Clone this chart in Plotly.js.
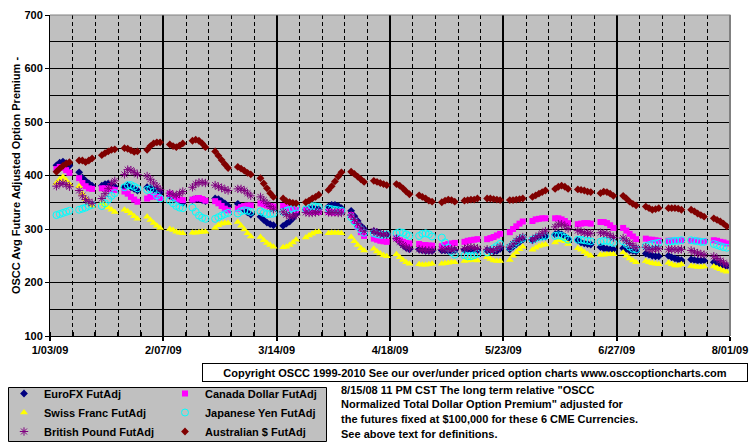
<!DOCTYPE html>
<html>
<head>
<meta charset="utf-8">
<script src="https://cdn.plot.ly/plotly-3.0.1.min.js"></script>
<style>
html,body{margin:0;padding:0;background:#ffffff;width:755px;height:446px;overflow:hidden;}
#chart{position:absolute;left:0;top:0;width:755px;height:446px;overflow:hidden;}
</style>
</head>
<body>
<div id="chart"></div>
<script>
// ---------------- DATA ----------------
// Trading days (Mon-Fri) from 2009-01-05 to 2009-07-31 : 30 weeks x 5 days
const firstDay = '2009-01-05';
const lastDay = '2009-07-31';

// x-axis tick labels
const tickDates = ['2009-01-03','2009-02-07','2009-03-14','2009-04-18','2009-05-23','2009-06-27','2009-08-01'];
const tickLabels = ['1/03/09','2/07/09','3/14/09','4/18/09','5/23/09','6/27/09','8/01/09'];

const seriesNames = ['EuroFX FutAdj','Canada Dollar FutAdj','Swiss Franc FutAdj','Japanese Yen FutAdj','British Pound FutAdj','Australian $ FutAdj'];

// one line per week (5 trading days)
const euroFX = [
 419,424,426,423,418,  406,396,390,385,381,  381,384,385,383,379,  378,381,378,375,372,  378,377,374,372,369,
 362,359,356,353,349,  354,356,356,354,352,  357,356,352,348,343,  347,341,336,331,327,  323,317,312,309,307,
 306,310,314,320,328,  336,338,339,338,337,  342,345,345,343,339,  334,324,315,306,300,  296,294,292,290,289,
 282,276,270,265,262,  262,260,259,259,259,  260,260,259,259,260,  261,262,262,261,260,  260,259,258,259,263,
 262,267,272,276,280,  279,283,285,286,286,  290,292,290,286,282,  279,275,273,272,271,  266,264,263,262,262,
 264,262,260,259,258,  254,252,250,249,249,  250,247,245,243,242,  243,242,241,241,241,  238,236,234,232,230
];
const canadaDollar = [
 412,416,414,410,405,  395,386,380,376,375,  376,376,375,374,373,  370,366,360,355,351,  357,360,362,360,358,
 366,361,357,355,354,  355,357,358,356,353,  352,348,343,338,335,  338,341,343,344,344,  348,346,344,343,342,
 343,341,339,337,335,  335,333,332,332,332,  332,331,331,332,333,  326,315,304,294,287,  282,280,278,277,276,
 283,279,276,274,273,  272,270,270,269,269,  268,270,272,273,274,  276,278,279,280,281,  281,283,285,288,291,
 294,300,305,310,314,  315,318,319,320,320,  320,320,318,315,311,  309,310,311,311,310,  313,313,311,307,302,
 302,297,291,286,281,  282,280,280,279,278,  278,278,278,279,279,  278,278,278,277,277,  279,278,276,275,273
];
const swissFranc = [
 386,393,397,391,384,  380,366,356,348,343,  348,344,340,336,332,  336,333,329,324,319,  323,317,311,306,302,
 300,298,295,293,292,  293,293,294,295,295,  302,307,310,311,311,  313,306,299,292,286,  285,279,274,270,267,
 266,267,270,275,280,  284,288,291,294,295,  292,293,293,293,292,  285,277,270,264,260,  263,258,254,251,249,
 253,247,242,238,235,  234,233,233,234,235,  235,236,237,238,238,  240,241,242,242,241,  247,244,241,240,240,
 242,250,256,262,267,  261,265,268,270,271,  275,279,279,277,272,  264,261,257,253,250,  252,252,253,253,253,
 256,250,245,241,238,  240,238,236,235,234,  237,234,232,232,234,  231,230,229,229,230,  230,227,225,222,220
];
const japaneseYen = [
 326,328,330,332,334,  336,338,340,343,345,  343,348,355,362,367,  378,382,382,379,376,  373,375,370,363,357,
 353,348,343,340,339,  340,332,325,321,319,  319,322,325,328,330,  329,333,335,334,332,  333,330,328,328,329,
 332,334,336,338,340,  337,341,343,342,341,  338,337,336,335,334,  322,314,306,299,293,  292,290,289,289,290,
 292,294,293,290,287,  287,291,292,290,286,  284,275,265,257,252,  251,249,249,251,254,  256,260,264,268,272,
 266,271,276,280,283,  280,283,285,286,287,  287,288,287,284,280,  280,280,279,278,277,  276,278,278,276,274,
 277,272,267,263,262,  268,270,272,273,274,  276,277,278,278,279,  279,278,277,276,276,  272,270,268,266,265
];
const britishPound = [
 380,385,386,383,379,  372,362,355,351,348,  357,366,376,385,390,  402,411,410,406,402,  399,393,386,380,374,
 367,364,363,366,370,  378,384,387,387,386,  382,379,377,374,372,  375,375,372,367,362,  360,354,348,342,337,
 332,327,324,324,326,  331,330,330,331,332,  331,331,331,330,330,  326,318,310,302,296,  296,293,291,290,289,
 282,276,270,266,263,  262,261,260,260,260,  262,262,262,262,262,  263,265,266,265,264,  262,260,260,263,267,
 266,272,278,282,285,  280,284,288,292,296,  304,309,309,306,301,  297,295,293,292,292,  293,292,291,288,284,
 283,278,273,269,265,  266,262,262,263,263,  262,262,262,261,262,  260,257,255,253,252,  249,245,241,237,233
];
const australianDollar = [
 407,413,418,422,425,  428,428,425,428,432,  438,442,445,448,449,  451,450,447,444,445,  448,455,460,462,462,
 458,455,453,456,460,  465,467,465,460,453,  445,437,429,421,414,  416,413,409,405,402,  395,385,376,367,360,
 357,352,350,349,348,  350,353,357,360,364,  373,380,389,398,406,  407,403,398,393,388,  390,388,386,384,382,
 384,381,376,370,365,  363,360,357,353,351,  350,353,355,354,351,  353,354,355,355,357,  357,357,356,355,354,
 354,354,355,356,357,  360,363,366,369,372,  375,379,381,379,375,  374,373,372,370,369,  367,370,369,366,362,
 362,357,351,347,344,  342,339,336,337,339,  339,339,339,338,336,  336,333,329,326,323,  320,317,314,310,305
];

const noteLines = [
 '8/15/08 11 PM CST The long term relative "OSCC',
 'Normalized Total Dollar Option Premium" adjusted for',
 'the futures fixed at $100,000 for these 6 CME Currencies.',
 'See above text for definitions.'
];
const copyrightText = 'Copyright OSCC 1999-2010 See our over/under priced option charts www.osccoptioncharts.com';
const yTitle = 'OSCC Avg Future Adjusted Option Premium -';

// ---------------- BUILD ----------------
function tradingDays(from, to){
  const out = [];
  const d = new Date(from + 'T00:00:00Z');
  const end = new Date(to + 'T00:00:00Z');
  while (d <= end){
    const wd = d.getUTCDay();
    if (wd >= 1 && wd <= 5) out.push(d.toISOString().slice(0,10));
    d.setUTCDate(d.getUTCDate() + 1);
  }
  return out;
}
const dates = tradingDays(firstDay, lastDay);

const W = 755, H = 446;
const px = x => x / W;
const py = y => 1 - y / H;
const FONT = 'Liberation Sans, Arial, sans-serif';
const bold = (s) => ({family: FONT, size: s, color: '#000000', weight: 'bold'});

const styles = [
  {symbol:'diamond', size:6, color:'#000080', legend:'legend'},
  {symbol:'square', size:6, color:'#ff00ff', legend:'legend2'},
  {symbol:'triangle-up', size:7, color:'#ffff00', legend:'legend'},
  {symbol:'circle-open', size:7, color:'#00ffff', legend:'legend2', lw:1},
  {symbol:'asterisk-open', size:7, color:'#800080', legend:'legend', lw:1},
  {symbol:'diamond', size:6, color:'#800000', legend:'legend2'}
];
const values = [euroFX, canadaDollar, swissFranc, japaneseYen, britishPound, australianDollar];

const traces = values.map((v, i) => {
  const s = styles[i];
  const marker = {symbol: s.symbol, size: s.size, color: s.color};
  if (s.lw) marker.line = {color: s.color, width: s.lw};
  else marker.line = {width: 0};
  return {
    type: 'scatter', mode: 'markers', name: seriesNames[i],
    x: dates, y: v, marker: marker, legend: s.legend,
    hoverinfo: 'skip'
  };
});

const annotations = noteLines.map((t, i) => ({
  xref: 'paper', yref: 'paper', x: px(339), y: py([390, 404, 418.5, 434][i]),
  xanchor: 'left', yanchor: 'middle', showarrow: false, text: t, font: bold(11), align: 'left'
}));
annotations.push({
  xref: 'paper', yref: 'paper', x: px(202), y: py(363), xanchor: 'left', yanchor: 'top',
  showarrow: false, text: copyrightText, font: bold(11), align: 'center',
  bgcolor: '#ffffff', bordercolor: '#000000', borderwidth: 1, borderpad: 1, width: 542, height: 15
});

const layout = {
  width: W, height: H, autosize: false,
  margin: {l: 0, r: 0, t: 0, b: 0, autoexpand: false},
  paper_bgcolor: '#ffffff', plot_bgcolor: '#c0c0c0',
  font: bold(11),
  showlegend: true,
  xaxis: {
    type: 'date', domain: [px(50), px(730)], range: ['2009-01-03', '2009-08-01'],
    tickmode: 'array', tickvals: tickDates, ticktext: tickLabels, tickfont: bold(11),
    showgrid: true, gridcolor: '#000000', gridwidth: 2,
    ticks: 'outside', ticklen: 4, tickwidth: 2, tickcolor: '#000000',
    showline: true, linecolor: '#000000', linewidth: 1, zeroline: false, fixedrange: true,
    minor: {dtick: 7 * 86400000, tick0: '2009-01-03', showgrid: true, gridcolor: '#000000', gridwidth: 1,
            griddash: '4px,3px', ticks: 'inside', ticklen: 4, tickcolor: '#000000'}
  },
  yaxis: {
    domain: [py(336), py(15)], range: [100, 700], tick0: 100, dtick: 100, tickfont: bold(11),
    showgrid: true, gridcolor: '#000000', gridwidth: 1,
    ticks: 'outside', ticklen: 4, tickcolor: '#000000',
    showline: true, linecolor: '#000000', linewidth: 1, zeroline: false, fixedrange: true,
    minor: {dtick: 50, showgrid: true, gridcolor: '#000000', gridwidth: 1},
    title: {text: yTitle, font: bold(11), standoff: 1}
  },
  legend: {
    x: px(4), y: py(379), xanchor: 'left', yanchor: 'top', orientation: 'v',
    bgcolor: 'rgba(0,0,0,0)', borderwidth: 0, font: bold(11), itemwidth: 30, tracegroupgap: 0
  },
  legend2: {
    x: px(165), y: py(379), xanchor: 'left', yanchor: 'top', orientation: 'v',
    bgcolor: 'rgba(0,0,0,0)', borderwidth: 0, font: bold(11), itemwidth: 30, tracegroupgap: 0
  },
  shapes: [
    {type: 'rect', xref: 'paper', yref: 'paper', x0: px(8.5), x1: px(326.5), y0: py(441.5), y1: py(387.5),
     fillcolor: '#c0c0c0', line: {color: '#000000', width: 1}, layer: 'below'},
    {type: 'line', xref: 'paper', yref: 'paper', x0: px(50), x1: px(730.5), y0: py(15), y1: py(15),
     line: {color: '#808080', width: 1}, layer: 'above'},
    {type: 'line', xref: 'paper', yref: 'paper', x0: px(730), x1: px(730), y0: py(15), y1: py(336),
     line: {color: '#808080', width: 2}, layer: 'above'}
  ],
  annotations: annotations
};

Plotly.newPlot('chart', traces, layout, {staticPlot: true, displayModeBar: false});
</script>
</body>
</html>
